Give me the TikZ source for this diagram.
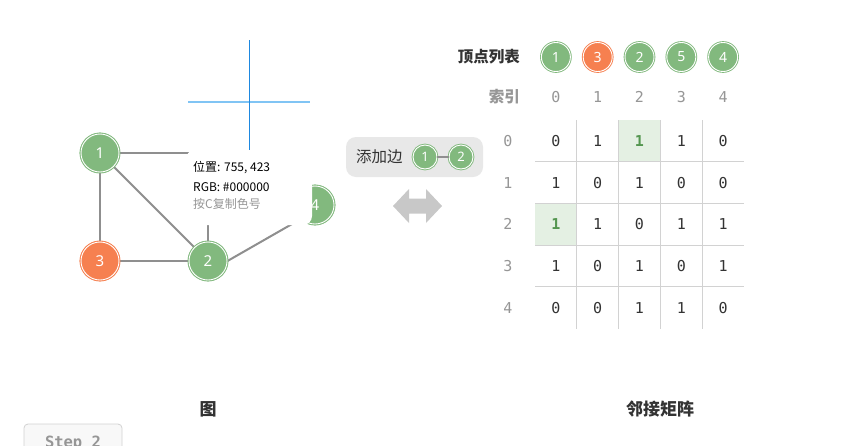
\documentclass[tikz,border=0pt]{standalone}
\usepackage{fontspec}
\setmainfont{Noto Sans CJK SC}
\setsansfont{Noto Sans}
\setmonofont{DejaVu Sans Mono}
\definecolor{gG}{RGB}{130,185,126}
\definecolor{gO}{RGB}{246,128,80}
\definecolor{edgeC}{RGB}{143,143,143}
\definecolor{gridC}{RGB}{210,210,210}
\definecolor{idxC}{RGB}{150,150,150}
\definecolor{hlC}{RGB}{228,240,227}
\definecolor{hlT}{RGB}{84,150,80}
\definecolor{boxC}{RGB}{232,232,232}
\definecolor{arrC}{RGB}{200,200,200}
\definecolor{txtC}{RGB}{51,51,51}
\definecolor{crossA}{RGB}{30,136,224}
\definecolor{crossB}{RGB}{128,196,244}
\begin{document}
\begin{tikzpicture}[x=1pt,y=-1pt,
  vtx/.style={circle, inner sep=0pt, minimum size=38pt, fill=gG, draw=gG, double=white,
    double distance=0.9pt, line width=0.9pt, text=white, font=\sffamily\fontsize{15}{15}\selectfont},
  vtxo/.style={vtx, fill=gO, draw=gO},
  lvtx/.style={vtx, minimum size=29pt, font=\sffamily\fontsize{14}{14}\selectfont},
  lvtxo/.style={lvtx, fill=gO, draw=gO},
  svtx/.style={vtx, minimum size=24pt, font=\sffamily\fontsize{13}{13}\selectfont},
  gedge/.style={draw=edgeC, line width=2pt},
  gridline/.style={draw=gridC, line width=0.8pt},
  cell/.style={inner sep=0pt, text=txtC, font=\ttfamily\fontsize{15}{15}\selectfont},
  hcell/.style={cell, text=hlT, font=\ttfamily\bfseries\fontsize{15}{15}\selectfont},
  idx/.style={inner sep=0pt, text=idxC, font=\ttfamily\fontsize{15}{15}\selectfont},
  headtxt/.style={inner sep=0pt, font=\bfseries\fontsize{15.5}{15.5}\selectfont},
  captxt/.style={inner sep=0pt, text=txtC, font=\bfseries\fontsize{17}{17}\selectfont},
  tiptxt/.style={inner sep=0pt, anchor=west, font=\fontsize{12}{12}\selectfont}
]
\useasboundingbox (0,0) rectangle (849,445);
\fill[white] (0,0) rectangle (849,445);

% ---------- graph ----------
\coordinate (v5) at (208,153);
\node[vtx]  (v1) at (100,153) {1};
\node[vtxo] (v3) at (100,261) {3};
\node[vtx]  (v2) at (208,261) {2};
\node[vtx]  (v4) at (315,205) {4};
\draw[gedge] (v1) -- (v5);
\draw[gedge] (v1) -- (v3);
\draw[gedge] (v1) -- (v2);
\draw[gedge] (v3) -- (v2);
\draw[gedge] (v2) -- (v5);
\draw[gedge] (v2.east) -- (v4.south west);
\draw[gedge] (v5) -- (v4);
\node[vtx]  at (v1) {1};
\node[vtxo] at (v3) {3};
\node[vtx]  at (v2) {2};
\node[vtx]  at (v4) {4};

% ---------- tooltip overlay ----------
\fill[white, rounded corners=9pt] (186,150) rectangle (312,225);
\draw[crossB, line width=1.2pt] (188,102) -- (310,102);
\draw[crossA, line width=1pt] (249,40) -- (249,150);
\node[tiptxt, text=black] (t1) at (193,168) {位置: 755, 423};
\node[tiptxt, text=black] (t2) at (193,187) {RGB: \#000000};
\node[tiptxt, text=idxC] (t3) at (193,204) {按C复制色号};

% ---------- add edge box ----------
\fill[boxC, rounded corners=10pt] (346,137) rectangle (483,177);
\node[inner sep=0pt, text=txtC, font=\fontsize{15.5}{15.5}\selectfont, anchor=west] (add) at (356,157) {添加边};
\node[svtx] (a1) at (425,157) {1};
\node[svtx] (a2) at (461,157) {2};
\draw[draw=edgeC, line width=1.5pt] (a1) -- (a2);

% ---------- double arrow ----------
\fill[arrC] (393,206) -- (409,189) -- (409,198.5) -- (426,198.5) -- (426,189) -- (442,206)
  -- (426,223) -- (426,213.5) -- (409,213.5) -- (409,223) -- cycle;

% ---------- vertex list ----------
\node[headtxt, text=txtC, anchor=east] (vl) at (520,57) {顶点列表};
\node[lvtx]  (l0) at (555.9,57) {1};
\node[lvtxo] (l1) at (597.7,57) {3};
\node[lvtx]  (l2) at (639.5,57) {2};
\node[lvtx]  (l3) at (681.3,57) {5};
\node[lvtx]  (l4) at (723.1,57) {4};
\node[headtxt, text=idxC, anchor=east] (ix) at (520,97) {索引};
\foreach \i in {0,...,4} {
  \node[idx] (ci\i) at ({535+41.8*(\i+0.5)},97) {\i};
  \node[idx] (ri\i) at (508,{120+41.7*(\i+0.5)}) {\i};
}

% ---------- matrix ----------
\fill[hlC] (618.6,120) rectangle (660.4,161.7);
\fill[hlC] (535,203.4) rectangle (576.8,245.1);
\foreach \y in {161.7,203.4,245.1,286.8} \draw[gridline] (535,\y) -- (744,\y);
\foreach \x in {576.8,618.6,660.4,702.2} \draw[gridline] (\x,120) -- (\x,329);
\foreach \r/\row in {0/{0,1,1,1,0},1/{1,0,1,0,0},2/{1,1,0,1,1},3/{1,0,1,0,1},4/{0,0,1,1,0}} {
  \foreach \v [count=\c from 0] in \row {
    \ifnum\r\c=2 \else\ifnum\r\c=20 \else
    \node[cell] (m\r\c) at ({535+41.8*(\c+0.5)},{120+41.7*(\r+0.5)}) {\v};
    \fi\fi
  }
}
\node[hcell] (m02) at (639.5,140.85) {1};
\node[hcell] (m20) at (555.9,224.25) {1};

% ---------- captions ----------
\node[captxt] (cg) at (208,409) {图};
\node[captxt] (cm) at (660,409) {邻接矩阵};

% ---------- step button ----------
\draw[gridC, fill={rgb,255:red,248;green,248;blue,248}, rounded corners=4pt, line width=0.8pt] (24,424) rectangle (122,460);
\node[inner sep=0pt, text=idxC, font=\ttfamily\bfseries\fontsize{15.5}{15.5}\selectfont] (st) at (73,443) {Step 2};
\end{tikzpicture}
\end{document}
